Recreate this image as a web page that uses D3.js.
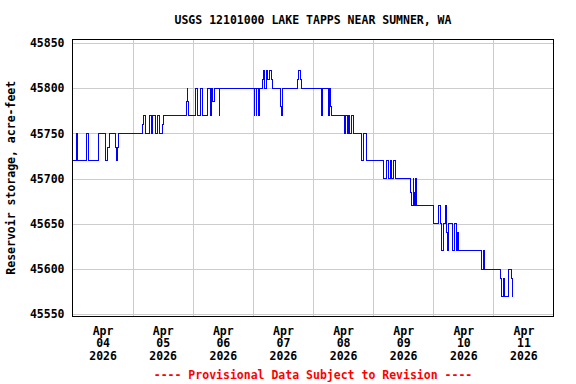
<!DOCTYPE html>
<html lang="en">
<head>
    <meta charset="UTF-8">
    <title>USGS 12101000 LAKE TAPPS NEAR SUMNER, WA</title>
    <script src="https://d3js.org/d3.v7.min.js"></script>
    <style>
        body { margin: 0; background: #fff; }
        text { font-family: "DejaVu Sans Mono", monospace; font-weight: bold; font-size: 11.5px; }
    </style>
</head>
<body>
    <div id="chart"></div>
    <script>
        // hours since 2026-04-04 00:00, at each change of the reading
        var hours = [0, 1.5, 1.75, 2, 5.5, 5.75, 6.25, 10.25, 13, 13.25, 14, 14.75, 17.25, 17.75, 18, 18.25,
            27.75, 28.25, 29, 30.75, 31.5, 32, 33.25, 33.75, 34.75, 35.75, 36.25,
            45.5, 45.75, 46, 46.5, 49.25, 50, 51, 51.75, 53.75, 55, 55.5, 56, 56.5, 58.5, 58.75,
            72.5, 72.75, 73.25, 73.5, 74.25, 74.5, 76, 76.25, 76.75, 77.25, 77.5, 78, 78.75, 79.25, 79.75,
            83, 83.25, 83.75, 84, 90, 90.25, 91, 91.5,
            99.25, 99.75, 102, 102.5, 103, 103.25, 108.5, 109, 109.75, 110.25, 110.75, 111.25, 112,
            115.5, 116.25, 117.25, 124.25, 125.25, 126, 126.75, 127.5, 128.25, 128.75,
            135, 135.25, 136, 136.25, 136.5, 137, 137.25,
            144.25, 146.25, 146.75, 147.25, 148, 148.75, 149.25, 149.75, 150.25, 151.5, 151.75, 152.5, 153.25, 153.5, 154,
            163.25, 164, 164.5, 171, 171.25, 172, 172.5, 174, 175.25, 175.5, 175.75]
        // reservoir storage, acre-feet
        var storage = [45720, 45735, 45750, 45720, 45735, 45750, 45720, 45750, 45735, 45720, 45735, 45750, 45735, 45720, 45735, 45750,
            45760, 45770, 45750, 45770, 45750, 45770, 45750, 45770, 45750, 45760, 45770,
            45785, 45800, 45785, 45770, 45800, 45770, 45800, 45770, 45800, 45770, 45800, 45785, 45800, 45770, 45800,
            45770, 45800, 45770, 45800, 45770, 45800, 45810, 45820, 45800, 45810, 45820, 45810, 45820, 45810, 45800,
            45780, 45770, 45790, 45800, 45810, 45820, 45810, 45800,
            45770, 45800, 45770, 45800, 45780, 45770, 45750, 45770, 45750, 45770, 45750, 45770, 45750,
            45720, 45750, 45720, 45700, 45720, 45700, 45720, 45700, 45720, 45700,
            45685, 45670, 45700, 45685, 45670, 45700, 45670,
            45650, 45670, 45650, 45620, 45650, 45670, 45640, 45620, 45650, 45630, 45620, 45650, 45620, 45640, 45620,
            45600, 45620, 45600, 45590, 45570, 45590, 45570, 45600, 45590, 45570, 45570]

        var yTicks = [45550, 45600, 45650, 45700, 45750, 45800, 45850]
        var dayLabels = ["04", "05", "06", "07", "08", "09", "10", "11"]
        var monthLabel = "Apr"
        var yearLabel = "2026"

        var width = 576
        var height = 384
        var margin = {top: 39.5, right: 22.5, bottom: 68, left: 72.5}

        var start = new Date(Date.UTC(2026, 3, 4))
        var end = new Date(Date.UTC(2026, 3, 12))

        var datos = hours.map(function (h, i) {
            return {date: d3.utcMinute.offset(start, h * 60), value: storage[i]}
        })

        var svg = d3.select("#chart")
            .append("svg")
            .attr("width", width)
            .attr("height", height)

        var scaleX = d3.scaleUtc()
            .domain([start, end])
            .range([margin.left, width - margin.right])

        var scaleY = d3.scaleLinear()
            .domain([45548, 45854])
            .range([height - margin.bottom, margin.top])

        // title
        svg.append("text")
            .attr("x", (margin.left + width - margin.right) / 2)
            .attr("y", 24)
            .attr("text-anchor", "middle")
            .text("USGS 12101000 LAKE TAPPS NEAR SUMNER, WA")

        // vertical grid at each midnight
        var midnights = d3.utcDay.range(d3.utcDay.offset(start, 1), end)
        svg.append("g")
            .attr("transform", "translate(0," + (height - margin.bottom) + ")")
            .call(d3.axisBottom(scaleX).tickValues(midnights).tickSize(-(height - margin.bottom - margin.top)).tickFormat(""))
            .call(function (g) {
                g.select(".domain").remove()
                g.selectAll("line").attr("stroke", "#cccccc").attr("shape-rendering", "crispEdges")
            })

        // y axis with horizontal grid
        svg.append("g")
            .attr("transform", "translate(" + margin.left + ",0)")
            .call(d3.axisLeft(scaleY).tickValues(yTicks).tickSize(-(width - margin.left - margin.right)).tickPadding(8).tickFormat(d3.format("d")))
            .call(function (g) {
                g.select(".domain").remove()
                g.selectAll("line").attr("stroke", "#cccccc").attr("shape-rendering", "crispEdges")
                g.selectAll("text").attr("fill", "#000").style("font-size", "11.5px")
            })

        // x labels at noon of each day
        var noons = dayLabels.map(function (d, i) { return d3.utcHour.offset(start, 12 + 24 * i) })
        var xAxis = d3.axisBottom(scaleX).tickValues(noons).tickSize(0).tickFormat("")
        var gx = svg.append("g")
            .attr("transform", "translate(0," + (height - margin.bottom) + ")")
            .call(xAxis)
        gx.select(".domain").remove()
        gx.selectAll(".tick").each(function (d, i) {
            var t = d3.select(this).append("text")
                .attr("fill", "#000")
                .attr("text-anchor", "middle")
            t.append("tspan").attr("x", 0).attr("y", 18.5).text(monthLabel)
            t.append("tspan").attr("x", 0).attr("y", 31.3).text(dayLabels[i])
            t.append("tspan").attr("x", 0).attr("y", 44).text(yearLabel)
        })

        // data line
        var line = d3.line()
            .x(function (d) { return scaleX(d.date) })
            .y(function (d) { return scaleY(d.value) })
            .curve(d3.curveStepAfter)

        svg.append("path")
            .datum(datos)
            .attr("d", line)
            .attr("fill", "none")
            .attr("stroke", "#0000ff")
            .attr("stroke-width", 1)
            .attr("shape-rendering", "crispEdges")

        // frame
        svg.append("rect")
            .attr("x", margin.left)
            .attr("y", margin.top)
            .attr("width", width - margin.left - margin.right)
            .attr("height", height - margin.top - margin.bottom)
            .attr("fill", "none")
            .attr("stroke", "#000")
            .attr("stroke-width", 1)
            .attr("shape-rendering", "crispEdges")

        // y axis title
        svg.append("text")
            .attr("transform", "translate(15," + ((margin.top + height - margin.bottom) / 2) + ") rotate(-90)")
            .attr("text-anchor", "middle")
            .text("Reservoir storage, acre-feet")

        // footer
        svg.append("text")
            .attr("x", (margin.left + width - margin.right) / 2)
            .attr("y", 378.5)
            .attr("text-anchor", "middle")
            .attr("fill", "#ff0000")
            .text("---- Provisional Data Subject to Revision ----")
    </script>
</body>
</html>
